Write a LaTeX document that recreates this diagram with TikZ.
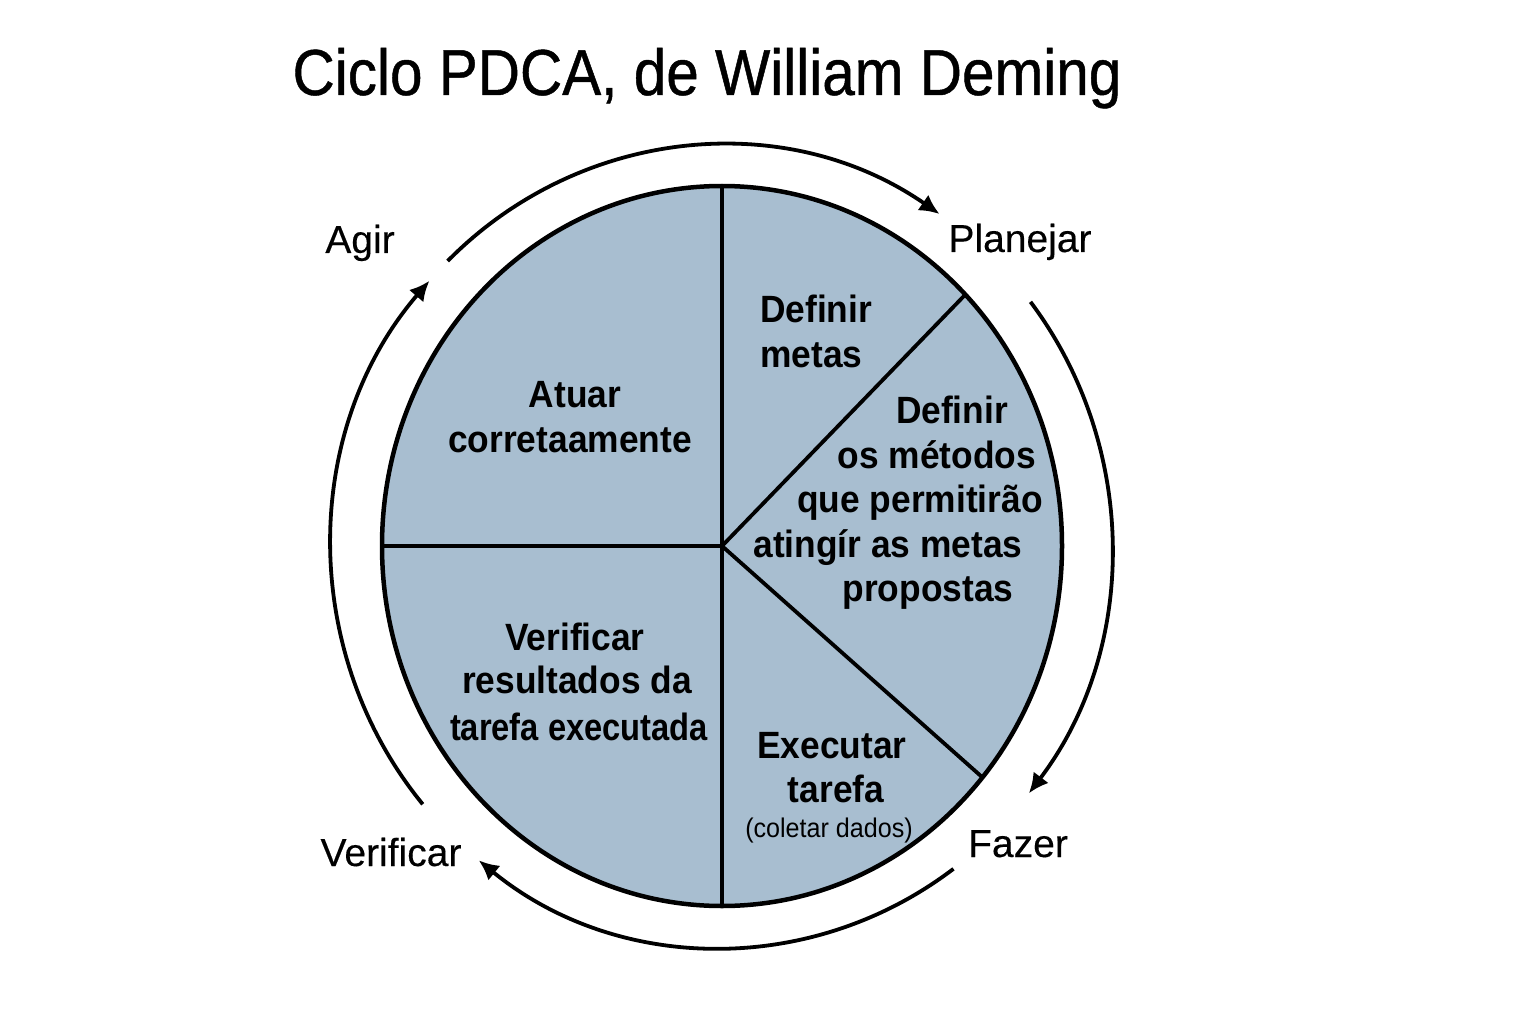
\documentclass[tikz,border=0pt]{standalone}
\usepackage{fontspec}
\setmainfont{Liberation Sans}
\newfontfamily\titlefont[FakeStretch=0.9,FakeBold=0.7]{Liberation Sans}
\newfontfamily\labelfont[FakeBold=0.3]{Liberation Sans}
\newfontfamily\innerfont[FakeStretch=0.93]{Liberation Sans}
\newfontfamily\innernarrow[FakeStretch=0.86]{Liberation Sans}
\usetikzlibrary{arrows.meta,calc}
\definecolor{pieblue}{RGB}{168,190,208}
\begin{document}
\begin{tikzpicture}[x=1pt,y=1pt,
  lab/.style={anchor=base,inner sep=0pt,font=\labelfont\fontsize{39}{44}\selectfont},
  intext/.style={anchor=base,inner sep=0pt,font=\innerfont\bfseries\fontsize{38}{44}\selectfont},
  intextn/.style={anchor=base,inner sep=0pt,font=\innernarrow\bfseries\fontsize{38}{44}\selectfont},
  smalltext/.style={anchor=base,inner sep=0pt,font=\innerfont\fontsize{27}{32}\selectfont},
  cyc/.style={line width=3.8pt,-{Latex[length=20pt,width=19pt]}},
  part/.style={line width=3.8pt}]
\useasboundingbox (0,0) rectangle (1536,-1024);
\coordinate (c) at (722,-546);
\coordinate (o) at (721.5,-546.5);
\coordinate (ptop) at ($(c)+(90:340 and 360)$);
\coordinate (pbot) at ($(c)+(270:340 and 360)$);
\coordinate (pleft) at ($(c)+(180:340 and 360)$);
\coordinate (pur) at ($(c)+(44.3:340 and 360)$);
\coordinate (plr) at ($(c)+(-40:340 and 360)$);
% pie
\fill[pieblue] (c) ellipse [x radius=340, y radius=360];
\draw[part] (ptop) -- (pbot);
\draw[part] (pleft) -- (c);
\draw[part] (c) -- (pur);
\draw[part] (c) -- (plr);
\draw[line width=4.5pt] (c) ellipse [x radius=340, y radius=360];
% cycle arcs
\draw[cyc] ($(o)+(134.6:390 and 401)$) arc[start angle=134.6, end angle=56, x radius=390, y radius=401];
\draw[cyc] ($(o)+(37.6:390 and 401)$) arc[start angle=37.6, end angle=-38, x radius=390, y radius=401];
\draw[cyc] ($(o)+(-53.5:390 and 401)$) arc[start angle=-53.5, end angle=-128.5, x radius=390, y radius=401];
\draw[cyc] ($(o)+(220:390 and 401)$) arc[start angle=220, end angle=138.5, x radius=390, y radius=401];
% title
\node[anchor=base,inner sep=0pt,font=\titlefont\fontsize{65}{70}\selectfont] (title) at (707,-95) {Ciclo PDCA, de William Deming};
% phase labels
\node[lab] (agir) at (360,-253) {Agir};
\node[lab] (planejar) at (1020,-252) {Planejar};
\node[lab] (fazer) at (1018,-857) {Fazer};
\node[lab] (verificar) at (391,-866) {Verificar};
% sector texts
\node[intext,anchor=base west] (dm1) at (760,-322) {Definir};
\node[intext,anchor=base west] (dm2) at (760,-367) {metas};
\node[intext] (at1) at (575,-407) {Atuar};
\node[intext] (at2) at (570,-452) {corretaamente};
\node[intext] (dd1) at (952,-423) {Definir};
\node[intext] (dd2) at (937,-468) {os métodos};
\node[intext] (dd3) at (920,-512) {que permitirão};
\node[intext] (dd4) at (888,-557) {atingír as metas};
\node[intext] (dd5) at (928,-601) {propostas};
\node[intext] (vr1) at (575,-650) {Verificar};
\node[intext] (vr2) at (577,-693) {resultados da};
\node[intextn] (vr3) at (579,-740) {tarefa executada};
\node[intext] (ex1) at (832,-758) {Executar};
\node[intext] (ex2) at (836,-802) {tarefa};
\node[smalltext] (ex3) at (829,-837) {(coletar dados)};
\end{tikzpicture}
\end{document}
